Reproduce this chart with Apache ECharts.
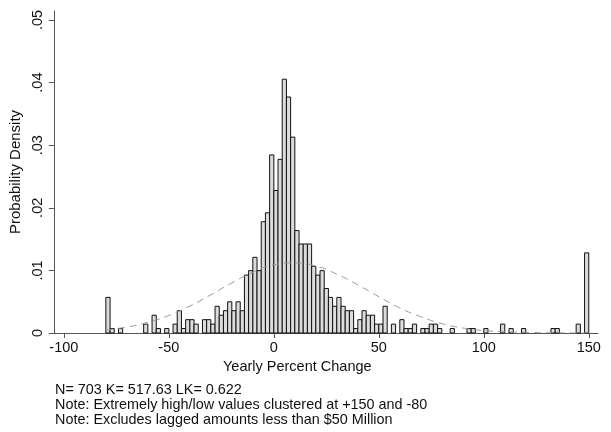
<!DOCTYPE html>
<html>
<head>
<meta charset="utf-8">
<script src="https://cdn.jsdelivr.net/npm/echarts@6/dist/echarts.min.js"></script>
<style>
  html, body { margin: 0; padding: 0; background: #fff; }
  #chart { width: 611px; height: 432px; }
</style>
</head>
<body>
<div id="chart"></div>
<script>
// histogram bins (left edge, width 2) with non-zero density
const binLeft = [-80, -78, -74, -62, -58, -56, -52, -48, -46, -44, -42, -40, -38, -34, -32, -30,
  -28, -26, -24, -22, -20, -18, -16, -14, -12, -10, -8, -6, -4, -2, 0, 2, 4, 6, 8, 10, 12, 14,
  16, 18, 20, 22, 24, 26, 28, 30, 32, 34, 36, 38, 40, 42, 44, 46, 48, 50, 52, 56, 60, 62, 64,
  66, 70, 72, 74, 76, 78, 84, 92, 94, 100, 108, 112, 118, 132, 134, 144, 148]
const density = [0.00569, 0.00071, 0.00071, 0.00142, 0.00284, 0.00071, 0.00071, 0.00142, 0.00356,
  0.00071, 0.00213, 0.00213, 0.00142, 0.00213, 0.00213, 0.00142, 0.00427, 0.00284, 0.00356,
  0.00498, 0.00356, 0.00498, 0.00356, 0.00925, 0.00996, 0.01209, 0.00996, 0.01778, 0.0192,
  0.02845, 0.02276, 0.02774, 0.04054, 0.0377, 0.03129, 0.01636, 0.01422, 0.01422, 0.01422,
  0.01067, 0.00925, 0.00996, 0.00711, 0.00569, 0.00427, 0.00569, 0.00427, 0.00356, 0.00356,
  0.00071, 0.00213, 0.00356, 0.00284, 0.00284, 0.00142, 0.00142, 0.00427, 0.00142, 0.00213,
  0.00071, 0.00071, 0.00142, 0.00071, 0.00071, 0.00142, 0.00142, 0.00071, 0.00071, 0.00071,
  0.00071, 0.00071, 0.00142, 0.00071, 0.00071, 0.00071, 0.00071, 0.00142, 0.0128]
const binWidth = 2

// dashed normal curve
const curveX = [-80, -70, -60, -50, -40, -30, -20, -10, 0, 10, 20, 30, 40, 50, 60, 70, 80, 90, 100, 110, 120, 130, 140, 150]
const curveY = [0.0005, 0.00095, 0.0017, 0.0028, 0.0043, 0.0061, 0.008, 0.0097, 0.0109, 0.0112, 0.0107,
  0.0094, 0.0077, 0.0058, 0.004, 0.0026, 0.0015, 0.0008, 0.0004, 0.0002, 0.0001, 0.00003, 0.00001, 0]

const xTicks = [-100, -50, 0, 50, 100, 150]
const yTicks = [0, 0.01, 0.02, 0.03, 0.04, 0.05]
const yTickText = ['0', '.01', '.02', '.03', '.04', '.05']

const notes = [
  'N= 703 K= 517.63 LK= 0.622',
  'Note: Extremely high/low values clustered at +150 and -80',
  'Note: Excludes lagged amounts less than $50 Million'
]

const font = 'Arial, "Liberation Sans", sans-serif'
const chart = echarts.init(document.getElementById('chart'))

const option = {
  animation: false,
  grid: { left: 53, right: 13, top: 11, bottom: 99 },
  xAxis: {
    type: 'value',
    min: -104.75,
    max: 154.4,
    splitLine: { show: false },
    axisLine: { onZero: false, lineStyle: { color: '#555', width: 1 } },
    axisTick: { customValues: xTicks, length: 5, lineStyle: { color: '#555' } },
    axisLabel: { customValues: xTicks, color: '#111', fontSize: 14.5, fontFamily: font, margin: 7 }
  },
  yAxis: {
    type: 'value',
    min: 0,
    max: 0.05144,
    name: 'Probability Density',
    nameLocation: 'middle',
    nameGap: 24,
    nameTextStyle: { color: '#111', fontSize: 15, fontFamily: font },
    splitLine: { show: false },
    axisLine: { show: true, onZero: false, lineStyle: { color: '#555', width: 1 } },
    axisTick: { show: true, customValues: yTicks, length: 5, lineStyle: { color: '#555' } },
    axisLabel: {
      customValues: yTicks,
      rotate: 90,
      margin: 8,
      color: '#111',
      fontSize: 14.5,
      fontFamily: font,
      formatter: v => yTickText[yTicks.indexOf(v)] || ''
    }
  },
  series: [
    {
      type: 'custom',
      data: binLeft.map((x, i) => [x, density[i]]),
      encode: { x: 0, y: 1 },
      renderItem (params, api) {
        const x0 = api.value(0)
        const h = api.value(1)
        const p0 = api.coord([x0, 0])
        const p1 = api.coord([x0 + binWidth, h])
        return {
          type: 'rect',
          shape: { x: p0[0], y: p1[1], width: p1[0] - p0[0], height: p0[1] - p1[1] },
          style: { fill: '#dcdcdc', stroke: '#111', lineWidth: 1 }
        }
      }
    },
    {
      type: 'line',
      data: curveX.map((x, i) => [x, curveY[i]]),
      smooth: true,
      symbol: 'none',
      lineStyle: { color: '#999', width: 1, type: [7, 5] }
    }
  ],
  graphic: [
    {
      type: 'text',
      left: 223,
      top: 359,
      style: { text: 'Yearly Percent Change', fill: '#111', fontSize: 14.5, fontFamily: font }
    },
    ...notes.map((t, i) => ({
      type: 'text',
      left: 55,
      top: 383 + i * 15,
      style: { text: t, fill: '#111', fontSize: 14.4, fontFamily: font }
    }))
  ]
}

chart.setOption(option)
</script>
</body>
</html>
